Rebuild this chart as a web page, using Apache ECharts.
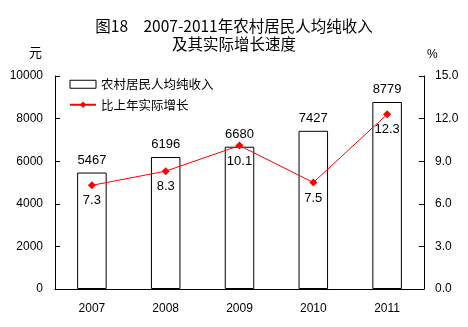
<!DOCTYPE html>
<html><head><meta charset="utf-8">
<script src="https://cdn.jsdelivr.net/npm/echarts@6/dist/echarts.min.js"></script>
<style>html,body{margin:0;padding:0;background:#fff}#c{width:468px;height:327px}</style>
</head><body><div id="c"></div>
<script>
const categories = ['2007','2008','2009','2010','2011'];
const incomeValues = [5467, 6196, 6680, 7427, 8779];
const growthValues = [7.3, 8.3, 10.1, 7.5, 12.3];
const leftTicks = [0, 2000, 4000, 6000, 8000, 10000];
const rightTicks = [0, 3, 6, 9, 12, 15];

const font = 'Liberation Sans, Arial, sans-serif';
const cjk = '"Noto Sans CJK SC", sans-serif';
const chart = echarts.init(document.getElementById('c'));
chart.setOption({
  animation: false,
  backgroundColor: '#fff',
  title: {
    text: '图18　2007-2011年农村居民人均纯收入\n及其实际增长速度',
    left: 'center', top: 12,
    textStyle: {fontFamily: cjk, fontSize: 15.5, fontWeight: 'normal', color: '#000', lineHeight: 18}
  },
  legend: {
    orient: 'vertical', left: 64, top: 73, itemGap: 8, itemWidth: 26, itemHeight: 8,
    textStyle: {fontFamily: cjk, fontSize: 12.5, color: '#000'},
    data: [
      {name: '农村居民人均纯收入', icon: 'rect', itemStyle: {color: '#fff', borderColor: '#000', borderWidth: 1}},
      {name: '比上年实际增长'}
    ]
  },
  grid: {left: 55, right: 44, top: 76, bottom: 38},
  xAxis: {
    type: 'category', data: categories,
    axisLine: {lineStyle: {color: '#000', width: 1}},
    axisTick: {inside: true, length: 5, lineStyle: {color: '#000'}},
    axisLabel: {color: '#000', fontFamily: font, fontSize: 12, margin: 14}
  },
  yAxis: [
    {
      type: 'value', min: leftTicks[0], max: leftTicks[leftTicks.length-1], interval: leftTicks[1]-leftTicks[0],
      name: '元', nameLocation: 'end', nameGap: 17,
      nameTextStyle: {fontFamily: cjk, fontSize: 13, color: '#000', align: 'right', padding: [0, 13, 0, 0]},
      axisLine: {show: true, lineStyle: {color: '#000'}},
      axisTick: {show: true, inside: true, length: 5, lineStyle: {color: '#000'}},
      axisLabel: {color: '#000', fontFamily: font, fontSize: 12, margin: 12, formatter: v => String(v)},
      splitLine: {show: false}
    },
    {
      type: 'value', min: rightTicks[0], max: rightTicks[rightTicks.length-1], interval: rightTicks[1]-rightTicks[0],
      name: '%', nameLocation: 'end', nameGap: 15,
      nameTextStyle: {fontFamily: font, fontSize: 12, color: '#000', align: 'left', padding: [0, 0, 0, 3]},
      axisLine: {show: true, lineStyle: {color: '#000'}},
      axisTick: {show: true, inside: true, length: 5, lineStyle: {color: '#000'}},
      axisLabel: {color: '#000', fontFamily: font, fontSize: 12, margin: 11, formatter: v => v.toFixed(1)},
      splitLine: {show: false}
    }
  ],
  series: [
    {
      name: '农村居民人均纯收入', type: 'bar', data: incomeValues, barWidth: '40%',
      itemStyle: {color: '#fff', borderColor: '#000', borderWidth: 1},
      label: {show: true, position: 'top', distance: 6, color: '#000', fontFamily: font, fontSize: 13}
    },
    {
      name: '比上年实际增长', type: 'line', yAxisIndex: 1, data: growthValues,
      symbol: 'diamond', symbolSize: 8,
      lineStyle: {color: '#f00', width: 1},
      itemStyle: {color: '#f00'},
      label: {show: true, position: 'bottom', distance: 5, color: '#000', fontFamily: font, fontSize: 13, formatter: p => p.value.toFixed(1)}
    }
  ]
});
</script></body></html>
